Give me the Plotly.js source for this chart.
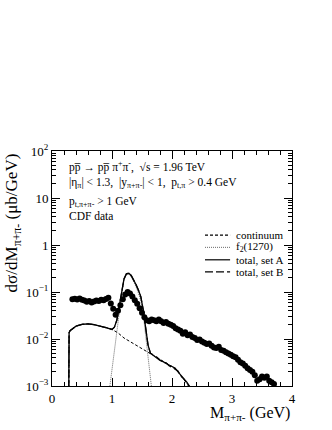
<!DOCTYPE html>
<html>
<head>
<meta charset="utf-8">
<script src="https://cdn.plot.ly/plotly-3.0.1.min.js"></script>
<style>html,body{margin:0;padding:0;background:#fff;}#chart{width:332px;height:430px;}</style>
</head>
<body>
<div id="chart"></div>
<script>
// CDF data points
var dataM = [0.34,0.38,0.42,0.46,0.50,0.54,0.58,0.62,0.66,0.70,0.74,0.78,0.82,0.86,0.90,0.94,0.98,
  1.02,1.06,1.10,1.14,1.18,1.22,1.26,1.30,1.34,1.38,1.42,1.46,1.50,1.54,1.58,1.62,1.66,1.70,1.74,1.78,
  1.82,1.86,1.90,1.94,1.98,2.02,2.06,2.10,2.14,2.18,2.22,2.26,2.30,2.34,2.38,2.42,2.46,2.50,2.54,2.58,
  2.62,2.66,2.70,2.74,2.78,2.82,2.86,2.90,2.94,2.98,3.02,3.06,3.10,3.14,3.18,3.22,3.26,3.30,3.34,3.38,
  3.42,3.46,3.50,3.54,3.58,3.62,3.66,3.70];
var dataXS = [0.070,0.072,0.069,0.073,0.068,0.066,0.062,0.064,0.060,0.063,0.066,0.064,0.068,0.067,0.071,0.075,0.057,
  0.044,0.033,0.040,0.052,0.070,0.088,0.100,0.093,0.080,0.067,0.056,0.045,0.036,0.029,0.025,0.024,0.026,0.025,0.024,0.026,
  0.024,0.022,0.023,0.021,0.020,0.019,0.017,0.016,0.015,0.013,0.014,0.012,0.0125,0.011,0.0105,0.0095,0.0098,0.0088,0.0083,0.0078,
  0.0080,0.0072,0.0066,0.0064,0.0068,0.0058,0.0056,0.0052,0.0049,0.0046,0.0043,0.0041,0.0036,0.0032,0.0030,0.0027,0.0024,0.0022,0.0020,0.0017,
  0.0013,0.0014,0.0016,0.0015,0.0016,0.0013,0.0012,0.0011];

// continuum
var contM = [0.28,0.285,0.30,0.35,0.40,0.50,0.60,0.70,0.80,0.90,1.00,1.10,1.20,1.30,1.40,1.50,1.60,1.70,1.80,1.90,2.00,2.10,2.20,2.30];
var contXS = [0.0009,0.0135,0.0150,0.0172,0.0188,0.0205,0.0210,0.0202,0.0190,0.0175,0.0160,0.0135,0.0105,0.0088,0.0074,0.0063,0.0054,0.0045,0.0037,0.0031,0.0026,0.0020,0.0014,0.00095];

// f2(1270)
var f2M = [0.96,1.00,1.04,1.08,1.12,1.16,1.20,1.24,1.28,1.32,1.36,1.40,1.44,1.48,1.52,1.56,1.60,1.63,1.66];
var f2XS = [0.0009,0.0022,0.0045,0.011,0.035,0.09,0.18,0.235,0.24,0.21,0.17,0.13,0.095,0.065,0.034,0.012,0.004,0.0018,0.0009];

// total, set A
var totAM = [0.28,0.285,0.30,0.35,0.40,0.50,0.60,0.70,0.80,0.90,1.00,1.04,1.08,1.12,1.16,1.20,1.24,1.28,1.32,1.36,1.40,1.44,1.48,1.52,1.56,1.60,1.64,1.70,1.75,1.80,1.85,1.90,1.95,2.00,2.05,2.10,2.15,2.20,2.25,2.30];
var totAXS = [0.0009,0.0135,0.0150,0.0172,0.0188,0.0205,0.0210,0.0202,0.0190,0.0175,0.0160,0.0178,0.025,0.050,0.11,0.19,0.245,0.25,0.225,0.185,0.145,0.11,0.08,0.042,0.018,0.0075,0.0050,0.0044,0.0040,0.0035,0.0033,0.0030,0.0028,0.0026,0.0024,0.0020,0.0017,0.0014,0.0012,0.00095];

// total, set B
var totBM = [0.28,0.285,0.30,0.35,0.40,0.50,0.60,0.70,0.80,0.90,1.00,1.04,1.08,1.12,1.16,1.20,1.24,1.28,1.32,1.36,1.40,1.44,1.48,1.52,1.56,1.60,1.64,1.70,1.75,1.80,1.85,1.90,1.95,2.00,2.05,2.10,2.15,2.20,2.25,2.30];
var totBXS = [0.0009,0.0135,0.0150,0.0172,0.0188,0.0205,0.0210,0.0202,0.0190,0.0175,0.0160,0.0178,0.025,0.050,0.11,0.19,0.245,0.25,0.225,0.185,0.145,0.11,0.08,0.042,0.018,0.0075,0.0050,0.0045,0.0041,0.0036,0.0032,0.0031,0.0027,0.0025,0.0023,0.0021,0.0016,0.0014,0.0011,0.00095];

var yTickVals = [0.001,0.01,0.1,1,10,100];
var yTickText = ['10<sup>\u22123</sup>','10<sup>\u22122</sup>','10<sup>\u22121</sup>','1','10','10<sup>2</sup>'];
var xTickVals = [0,1,2,3,4];
var xTickText = ['0','1','2','3','4'];
var legendNames = ['continuum','f<sub>2</sub>(1270)','total, set A','total, set B'];

var minorY = [];
[0.001,0.01,0.1,1,10].forEach(function(d){for(var k=2;k<=9;k++){minorY.push(d*k);}});

var FONT = 'Liberation Serif, Times New Roman, serif';

var traces = [
  {x: contM, y: contXS, mode:'lines', line:{color:'#000', width:1, dash:'3px,2px'}, showlegend:false, hoverinfo:'skip'},
  {x: f2M, y: f2XS, mode:'lines', line:{color:'#444', width:0.8, dash:'1px,1px'}, showlegend:false, hoverinfo:'skip'},
  {x: totBM, y: totBXS, mode:'lines', line:{color:'#000', width:1.2, dash:'8px,3px'}, showlegend:false, hoverinfo:'skip'},
  {x: totAM, y: totAXS, mode:'lines', line:{color:'#000', width:1.3}, showlegend:false, hoverinfo:'skip'},
  {x: dataM, y: dataXS, mode:'markers', marker:{color:'#000', size:6, symbol:'circle'}, showlegend:false, hoverinfo:'skip'}
];

var legDash = ['3px,2px','1px,1px','solid','8px,3px'];
var legY = [0.642, 0.590, 0.537, 0.486];
var shapes = [];
var annotations = [];
for (var i=0;i<4;i++){
  shapes.push({type:'line', xref:'paper', yref:'paper', x0:0.6375, x1:0.742, y0:legY[i], y1:legY[i],
    line:{color: i===1?'#444':'#000', width: i===1?0.8:1.2, dash: legDash[i]}});
  annotations.push({xref:'paper', yref:'paper', x:0.758, y:legY[i], xanchor:'left', yanchor:'middle',
    text: legendNames[i], showarrow:false, font:{family:FONT, size:11, color:'#000'}});
}

var infoLines = [
  'pp\u0305 \u2192 pp\u0305 \u03c0<sup>+</sup>\u03c0<sup>-</sup>,  \u221as = 1.96 TeV',
  '|\u03b7<sub>\u03c0</sub>| < 1.3,  |y<sub>\u03c0+\u03c0-</sub>| < 1,  p<sub>t,\u03c0</sub> > 0.4 GeV',
  'p<sub>t,\u03c0+\u03c0-</sub> > 1 GeV',
  'CDF data'
];
var infoY = [0.936, 0.862, 0.785, 0.723];
for (var j=0;j<infoLines.length;j++){
  annotations.push({xref:'paper', yref:'paper', x:0.0625, y:infoY[j], xanchor:'left', yanchor:'middle',
    text: infoLines[j], showarrow:false, font:{family:FONT, size:11.5, color:'#000'}});
}
annotations.push({xref:'paper', yref:'paper', x:-0.163, y:1.0, xanchor:'center', yanchor:'top', textangle:-90,
  text:'d\u03c3/dM<sub>\u03c0+\u03c0-</sub> (\u03bcb/GeV)', showarrow:false, font:{family:FONT, size:17, color:'#000'}});
annotations.push({xref:'paper', yref:'paper', x:1.0, y:-0.115, xanchor:'right', yanchor:'middle',
  text:'M<sub>\u03c0+\u03c0-</sub> (GeV)', showarrow:false, font:{family:FONT, size:16, color:'#000'}});

var layout = {
  width:332, height:430,
  margin:{l:52, r:40, t:151, b:44, pad:0},
  paper_bgcolor:'#fff', plot_bgcolor:'#fff',
  font:{family:FONT, size:13, color:'#000'},
  showlegend:false,
  xaxis:{range:[0,4], tickmode:'array', tickvals:xTickVals, ticktext:xTickText,
    ticks:'inside', ticklen:8, tickwidth:1, tickcolor:'#000', showline:true, linecolor:'#000', linewidth:1,
    mirror:'allticks', showgrid:false, zeroline:false,
    minor:{dtick:0.2, ticks:'inside', ticklen:4, tickwidth:1, tickcolor:'#000', showgrid:false},
    tickfont:{family:FONT, size:13, color:'#000'}},
  yaxis:{type:'log', range:[-3,2], tickmode:'array', tickvals:yTickVals, ticktext:yTickText,
    ticks:'inside', ticklen:8, tickwidth:1, tickcolor:'#000', showline:true, linecolor:'#000', linewidth:1,
    mirror:'allticks', showgrid:false, zeroline:false,
    minor:{tickmode:'array', tickvals:minorY, ticks:'inside', ticklen:4, tickwidth:1, tickcolor:'#000', showgrid:false},
    tickfont:{family:FONT, size:13, color:'#000'}},
  shapes: shapes,
  annotations: annotations
};

Plotly.newPlot('chart', traces, layout, {staticPlot:true, displayModeBar:false});
</script>
</body>
</html>
